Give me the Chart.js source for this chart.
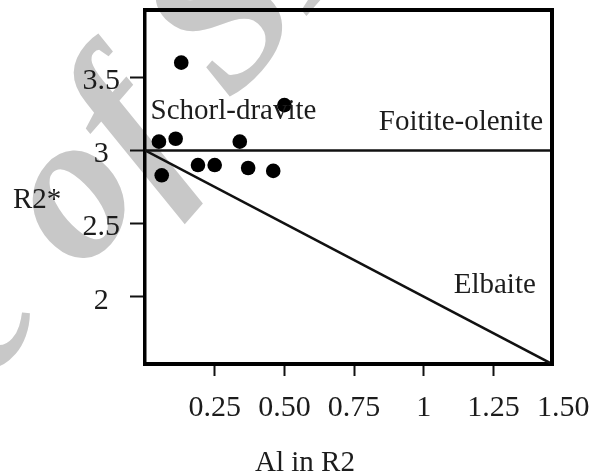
<!DOCTYPE html>
<html>
<head>
<meta charset="utf-8">
<script src="https://cdn.jsdelivr.net/npm/chart.js@4/dist/chart.umd.min.js"></script>
<style>
  html, body { margin: 0; padding: 0; background: #ffffff; }
  #wrap { width: 600px; height: 475px; position: relative; }
</style>
</head>
<body>
<div id="wrap"><canvas id="chart" width="600" height="475"></canvas></div>
<script>
// Tourmaline R2-site composition: Al in R2 vs R2*
const alInR2 = [0.13, 0.50, 0.05, 0.11, 0.34, 0.06, 0.19, 0.25, 0.37, 0.46];
const r2Star = [3.60, 3.31, 3.06, 3.08, 3.06, 2.83, 2.90, 2.90, 2.88, 2.86];

// Field boundaries: R2* = 3 (foitite-olenite) and R2* = 3 - Al (elbaite)
const boundaryAl = [0, 1.46];
const foititeBoundary = [3, 3];
const elbaiteBoundary = [3, 1.54];

const xTickValues = [0.25, 0.5, 0.75, 1, 1.25, 1.5];
const xTickLabels = ['0.25', '0.50', '0.75', '1', '1.25', '1.50'];
const yTickValues = [2, 2.5, 3, 3.5];
const yTickLabels = ['2', '2.5', '3', '3.5'];

const fieldNames = ['Schorl-dravite', 'Foitite-olenite', 'Elbaite'];

const SERIF = '"Liberation Serif", "Times New Roman", serif';
const INK = '#1c1c1c';
const X_MAX = 1.46;

const toPoints = (xs, ys) => xs.map((x, i) => ({ x: x, y: ys[i] }));

// Field names placed in data units
const fieldLabels = [
  { text: fieldNames[0], x: 0.02,  y: 3.27, align: 'left'  },
  { text: fieldNames[1], x: 1.428, y: 3.19, align: 'right' },
  { text: fieldNames[2], x: 1.402, y: 2.08, align: 'right' }
];

const watermark = {
  id: 'watermark',
  beforeDraw(chart) {
    const ctx = chart.ctx;
    const size = 210;
    ctx.save();
    ctx.font = 'italic bold ' + size + 'px ' + SERIF;
    ctx.fillStyle = '#c8c8c8';
    // centre of the "o" sits at this point
    ctx.translate(80, 203);
    ctx.rotate(-49 * Math.PI / 180);
    const lead = ctx.measureText('Archive ').width + ctx.measureText('o').width / 2;
    ctx.textBaseline = 'alphabetic';
    ctx.textAlign = 'left';
    ctx.fillText('Archive of SID', -lead, size * 0.23);
    ctx.restore();
  }
};

const frameAndText = {
  id: 'frameAndText',
  afterDatasetsDraw(chart) {
    const ctx = chart.ctx;
    const a = chart.chartArea;
    const xs = chart.scales.x, ys = chart.scales.y;
    ctx.save();
    // top and right edges of the frame
    ctx.strokeStyle = '#000';
    ctx.lineWidth = 4;
    ctx.lineCap = 'square';
    ctx.beginPath();
    ctx.moveTo(a.left, a.top);
    ctx.lineTo(a.right, a.top);
    ctx.lineTo(a.right, a.bottom);
    ctx.stroke();

    ctx.fillStyle = INK;
    ctx.font = '29px ' + SERIF;
    ctx.textBaseline = 'middle';
    fieldLabels.forEach(l => {
      ctx.textAlign = l.align;
      ctx.fillText(l.text, xs.getPixelForValue(l.x), ys.getPixelForValue(l.y));
    });

    // axis titles
    ctx.textAlign = 'center';
    ctx.fillText('Al in R2', a.left + 160, 463);
    ctx.textAlign = 'left';
    ctx.fillText('R2*', 13, 200);
    ctx.restore();
  }
};

new Chart(document.getElementById('chart'), {
  type: 'scatter',
  data: {
    datasets: [
      {
        label: 'samples',
        data: toPoints(alInR2, r2Star),
        pointRadius: 7.3,
        pointBackgroundColor: '#000',
        pointBorderWidth: 0,
        showLine: false
      },
      {
        label: 'R2* = 3',
        data: toPoints(boundaryAl, foititeBoundary),
        showLine: true,
        borderColor: '#111',
        borderWidth: 2.5,
        pointRadius: 0
      },
      {
        label: 'R2* = 3 - Al',
        data: toPoints(boundaryAl, elbaiteBoundary),
        showLine: true,
        borderColor: '#111',
        borderWidth: 2.5,
        pointRadius: 0
      }
    ]
  },
  options: {
    responsive: false,
    animation: false,
    events: [],
    layout: { padding: { top: 10, right: 48, left: 0, bottom: 0 } },
    plugins: { legend: { display: false }, tooltip: { enabled: false } },
    scales: {
      x: {
        type: 'linear',
        bounds: 'data',
        min: 0,
        max: X_MAX,
        afterBuildTicks: s => { s.ticks = xTickValues.map(v => ({ value: v })); },
        afterFit: s => { s.height = 111; s.paddingLeft = 0; s.paddingRight = 0; },
        grid: {
          drawOnChartArea: false,
          drawTicks: true,
          tickLength: 12,
          tickWidth: 2,
          tickColor: c => (c.tick && c.tick.value > X_MAX ? 'rgba(0,0,0,0)' : '#111')
        },
        border: { display: true, color: '#000', width: 4 },
        ticks: {
          autoSkip: false,
          maxRotation: 0,
          padding: 14,
          color: INK,
          font: { family: SERIF, size: 30 },
          callback: (v, i) => xTickLabels[i]
        }
      },
      y: {
        type: 'linear',
        bounds: 'data',
        min: 1.54,
        max: 3.96,
        afterBuildTicks: s => { s.ticks = yTickValues.map(v => ({ value: v })); },
        afterFit: s => { s.width = 145; s.paddingTop = 0; s.paddingBottom = 0; },
        grid: { drawOnChartArea: false, drawTicks: true, tickLength: 15, tickColor: '#111', tickWidth: 2 },
        border: { display: true, color: '#000', width: 3.5 },
        ticks: {
          autoSkip: false,
          padding: 10,
          crossAlign: 'center',
          labelOffset: 4,
          color: INK,
          font: { family: SERIF, size: 30 },
          callback: (v, i) => yTickLabels[i]
        }
      }
    }
  },
  plugins: [watermark, frameAndText]
});
</script>
</body>
</html>
